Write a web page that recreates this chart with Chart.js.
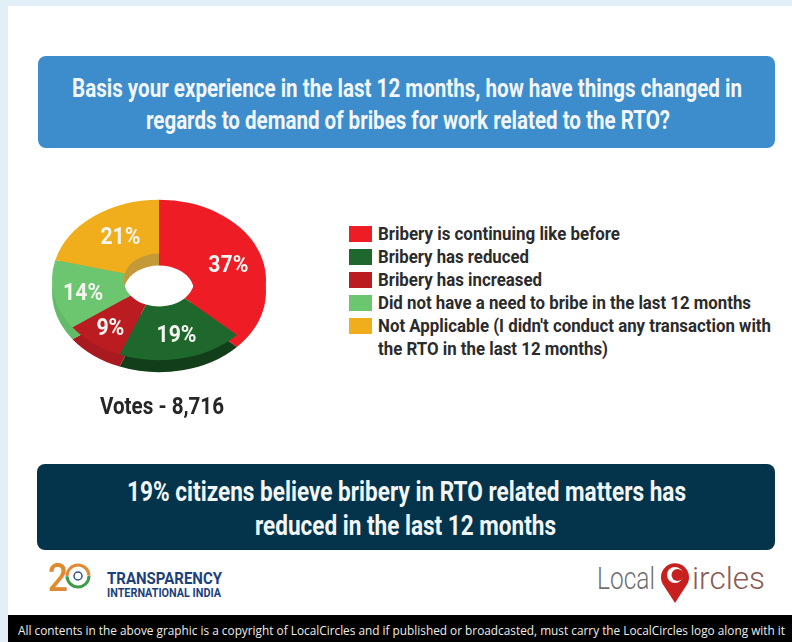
<!DOCTYPE html>
<html>
<head>
<meta charset="utf-8">
<script src="https://cdn.jsdelivr.net/npm/chart.js@4"></script>
<style>
html, body { margin: 0; padding: 0; background: #e3eff8; }
#page { position: absolute; left: 0; top: 0; width: 792px; height: 642px; overflow: hidden; background: #e3eff8; font-family: Roboto, sans-serif; filter: blur(0.5px); }
#panel { position: absolute; left: 8px; top: 6px; width: 784px; height: 636px; background: #fff; }
.box { position: absolute; border-radius: 8px; }
.t { position: absolute; white-space: nowrap; transform-origin: left center; line-height: 1; }
.sw { position: absolute; left: 349px; width: 23px; height: 16px; }
canvas { position: absolute; }
</style>
</head>
<body>
<div id="page">
  <div id="panel"></div>
  <div class="box" style="left:38px;top:56px;width:737px;height:92px;background:#3d8dcd"></div>
  <div class="box" style="left:37px;top:464px;width:738px;height:86px;background:#04344b"></div>
  <div style="position:absolute;left:8px;top:615px;width:784px;height:27px;background:#000"></div>
  <div style="position:absolute;left:44px;top:177px;width:230px;height:230px">
    <canvas id="sideChart"></canvas>
  </div>
  <div style="position:absolute;left:44px;top:165px;width:230px;height:230px">
    <canvas id="topChart"></canvas>
  </div>
  <svg style="position:absolute;left:655px;top:558px" width="40" height="50" viewBox="0 0 40 50">
    <path d="M20 45 L9 28 A14 14 0 1 1 31 28 Z" fill="#c8201f"/>
    <circle cx="20" cy="17" r="8" fill="#fff"/>
    <circle cx="22.5" cy="17" r="6" fill="#c8201f"/>
  </svg>
  <svg style="position:absolute;left:46px;top:560px" width="46" height="36" viewBox="0 0 46 36">
    <circle cx="32" cy="16" r="11" fill="none" stroke="#e08a35" stroke-width="3" stroke-dasharray="34 35" transform="rotate(180 32 16)"/>
    <circle cx="32" cy="16" r="11" fill="none" stroke="#3f9a4a" stroke-width="3" stroke-dasharray="34 35"/>
    <circle cx="32" cy="16" r="4" fill="none" stroke="#34508f" stroke-width="1.5"/>
  </svg>
</div>
<script>
// 数据
const categories = ['Bribery is continuing like before', 'Bribery has reduced', 'Bribery has increased', 'Did not have a need to bribe in the last 12 months', "Not Applicable (I didn't conduct any transaction with"];
const legendExtraLine = 'the RTO in the last 12 months)';
const shares = [37, 19, 9, 14, 21];
const topColors = ['#ee1c25', '#1f682d', '#bb1c22', '#6cc670', '#f0ae1c'];
const sideColors = ['#ee1c25', '#123f1a', '#a81a20', '#62bb68', '#c49a38'];

const page = document.getElementById('page');

// 放置文字并横向压缩到目标宽度
function place(text, x, cy, w, size, color, weight) {
    const el = document.createElement('div');
    el.className = 't';
    el.textContent = text;
    el.style.cssText = `left:${x}px;top:${cy - size / 2}px;font-size:${size}px;color:${color};font-weight:${weight || 700}`;
    page.appendChild(el);
    el.style.transform = `scaleX(${w / el.getBoundingClientRect().width})`;
    return el;
}

// 压扁成椭圆
const squash = 0.75;
const ellipse = {
    id: 'ellipse',
    beforeDatasetsDraw(chart) {
        const ctx = chart.ctx;
        const cy = (chart.chartArea.top + chart.chartArea.bottom) / 2;
        ctx.save();
        ctx.translate(0, cy);
        ctx.scale(1, squash);
        ctx.translate(0, -cy);
    },
    afterDatasetsDraw(chart) {
        chart.ctx.restore();
    }
};

// 百分比标签
const labelShiftX = [4, 2, -5, -6, 5];
const labelShiftY = [7, 4, 7, 4, 0];
const percentLabels = {
    id: 'percentLabels',
    afterDraw(chart) {
        const ctx = chart.ctx;
        const cy = (chart.chartArea.top + chart.chartArea.bottom) / 2;
        ctx.save();
        ctx.font = '700 23px Roboto';
        ctx.fillStyle = '#f4f4f0';
        ctx.textAlign = 'center';
        ctx.textBaseline = 'middle';
        chart.getDatasetMeta(0).data.forEach((arc, i) => {
            const p = arc.getCenterPoint();
            const maxWidth = shares[i] < 10 ? 28 : 40;
            ctx.fillText(shares[i] + '%', p.x + labelShiftX[i], cy + (p.y - cy) * squash + labelShiftY[i], maxWidth);
        });
        ctx.restore();
    }
};

function makeDoughnut(id, colors, plugins) {
    return new Chart(document.getElementById(id).getContext('2d'), {
        type: 'doughnut',
        data: {
            labels: categories,
            datasets: [{ data: shares, backgroundColor: colors, borderWidth: 0 }]
        },
        options: {
            responsive: true,
            maintainAspectRatio: false,
            animation: false,
            cutout: '33%',
            layout: { padding: 8 },
            plugins: { legend: { display: false }, tooltip: { enabled: false } }
        },
        plugins: plugins
    });
}

makeDoughnut('sideChart', sideColors, [ellipse]);
makeDoughnut('topChart', topColors, [ellipse, percentLabels]);

// 图例
categories.forEach((name, i) => {
    const sw = document.createElement('div');
    sw.className = 'sw';
    sw.style.top = (226 + i * 23) + 'px';
    sw.style.background = topColors[i];
    page.appendChild(sw);
});
const legendWidths = [242, 151, 164, 373, 393];
categories.forEach((name, i) => place(name, 378, 234 + i * 23, legendWidths[i], 18, '#2b2b2b'));
place(legendExtraLine, 378, 349, 230, 18, '#2b2b2b');

// 标题和说明
place('Basis your experience in the last 12 months, how have things changed in', 72, 88, 670, 25, '#f2f6fa');
place('regards to demand of bribes for work related to the RTO?', 146, 120, 524, 25, '#f2f6fa');
place('Votes - 8,716', 100, 406, 124, 24, '#262626');
place('19% citizens believe bribery in RTO related matters has', 127, 492, 559, 27, '#f2f6f8');
place('reduced in the last 12 months', 255, 526, 301, 27, '#f2f6f8');

// 页脚和标志文字
place('2', 48, 578, 20, 38, '#de8a2e', 500);
place('TRANSPARENCY', 107, 578, 115, 17, '#1d3f7c');
place('INTERNATIONAL INDIA', 107, 593, 114, 12.5, '#1d3f7c');
place('Local', 597, 578, 58, 31, '#6f6f6f', 300);
place('ircles', 692, 578, 73, 31, '#8a5a55', 300);
const foot = place('All contents in the above graphic is a copyright of LocalCircles and if published or broadcasted, must carry the LocalCircles logo along with it', 18, 630, 767, 13, '#ececec', 400);
foot.style.fontFamily = '"Open Sans", sans-serif';
foot.style.transform = 'none';
foot.style.transform = `scaleX(${767 / foot.getBoundingClientRect().width})`;
</script>
</body>
</html>
